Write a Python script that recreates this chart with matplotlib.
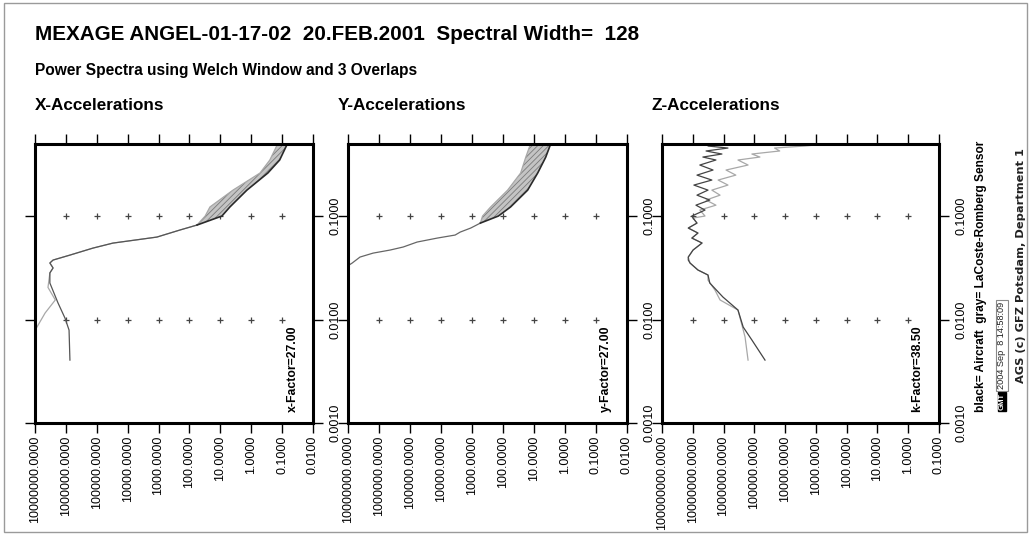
import matplotlib
matplotlib.use('Agg')
import matplotlib.pyplot as plt
from matplotlib.ticker import FixedLocator, FuncFormatter, NullLocator
from matplotlib.patches import Rectangle

plt.rcParams['font.family'] = ['Liberation Sans', 'DejaVu Sans']
plt.rcParams['hatch.linewidth'] = 0.6

W, H = 1029, 537

# ---------------- data ----------------
# X-Accelerations (frequency, power)
x_black_freq = [0.00406, 0.00792, 0.01035, 0.0145, 0.0226, 0.0283, 0.0316, 0.0353, 0.0377,
                0.0421, 0.0492, 0.055, 0.0629, 0.0736, 0.0822]
x_black_pow = [7.4e5, 7.9e5, 1.07e6, 1.8e6, 3.3e6, 3.3e6, 2.6e6, 3.3e6, 2.6e6,
               7.4e5, 1.33e5, 3.0e4, 1.13e3, 203, 57]
x_gray_freq = [0.0070, 0.0079, 0.0085, 0.0116, 0.0155, 0.0205, 0.0283, 0.0316, 0.0353, 0.0377,
               0.0421, 0.0492, 0.055, 0.0629, 0.0736, 0.0822]
x_gray_pow = [1.4e7, 1.0e7, 8.6e6, 4.7e6, 2.2e6, 3.8e6, 3.3e6, 2.6e6, 3.3e6, 2.6e6,
              7.4e5, 1.33e5, 3.0e4, 1.13e3, 203, 57]
x_band_freq = [0.0822, 0.1005, 0.123, 0.179, 0.262, 0.35, 0.5]
x_band_gray = [57, 31, 21.7, 3.9, 0.52, 0.25, 0.14]
x_band_black = [57, 8.9, 4.9, 1.38, 0.29, 0.12, 0.068]

# Y-Accelerations
y_freq = [0.0330, 0.0337, 0.0352, 0.0403, 0.044, 0.0471, 0.0504, 0.0563, 0.0615, 0.0658,
          0.0703, 0.0769, 0.0859]
y_pow = [1.2e7, 9.3e6, 7.4e6, 4.1e6, 1.55e6, 4.4e5, 1.66e5, 5.9e4, 1.32e4, 3.5e3,
         2.4e3, 1.1e3, 537]
y_band_freq = [0.0859, 0.1005, 0.123, 0.179, 0.262, 0.372, 0.5]
y_band_gray = [537, 457, 251, 71, 27, 18.5, 13]
y_band_black = [537, 141, 57, 16, 7.6, 4.2, 2.9]

# Z-Accelerations
z_black_freq = [0.00406, 0.00635, 0.00847, 0.01238, 0.01655, 0.0226, 0.027, 0.0302, 0.0353,
                0.0377, 0.0403, 0.0471, 0.0551, 0.0615, 0.0688, 0.0769, 0.0859, 0.0961,
                0.1005, 0.1148, 0.128, 0.1435, 0.160, 0.179, 0.2003, 0.224, 0.250, 0.280,
                0.313, 0.350, 0.374, 0.400, 0.428, 0.457, 0.478, 0.499]
z_black_pow = [4.5e4, 1.2e5, 2.3e5, 3.4e5, 1.05e6, 2.8e6, 3.2e6, 6.8e6, 1.23e7,
               1.4e7, 1.4e7, 9.8e6, 5.0e6, 1.07e7, 6.8e6, 1.4e7, 7.3e6, 9.8e6,
               1.07e7, 4.0e6, 7.9e6, 2.8e6, 7.3e6, 3.2e6, 9.2e6, 2.4e6, 7.3e6, 2.2e6,
               5.9e6, 1.77e6, 4.7e6, 1.13e6, 3.7e6, 7.2e5, 3.2e6, 6.2e5]
z_gray_freq = [0.00406, 0.00679, 0.01238, 0.0155, 0.0193, 0.0241, 0.027, 0.0302, 0.0353,
               0.0403, 0.0471, 0.0551, 0.0615, 0.0688, 0.0769, 0.0859, 0.0961,
               0.1005, 0.1148, 0.128, 0.1435, 0.160, 0.179, 0.2003, 0.224, 0.250, 0.280,
               0.313, 0.350, 0.374, 0.400, 0.428, 0.457, 0.478, 0.499]
z_gray_pow = [1.6e5, 2.0e5, 3.4e5, 1.3e6, 1.9e6, 3.2e6, 3.2e6, 6.8e6, 1.23e7,
              1.4e7, 9.8e6, 5.0e6, 1.07e7, 6.8e6, 1.4e7, 7.3e6, 9.8e6,
              4.0e6, 5.9e6, 1.77e6, 3.7e6, 1.3e6, 2.4e6, 7.2e5, 1.5e6, 4.0e5, 8.3e5,
              1.6e5, 3.4e5, 6.6e4, 1.2e5, 1.5e4, 2.2e4, 2.3e3, 5.0e2]

panel_titles = ['X-Accelerations', 'Y-Accelerations', 'Z-Accelerations']
factor_texts = ['x-Factor=27.00', 'y-Factor=27.00', 'k-Factor=38.50']
x_decades = [(7, -2), (7, -2), (8, -1)]       # power axis: left (max) -> right (min) exponent
y_tick_vals = [0.001, 0.01, 0.1]
y_range = (0.001, 0.5)

main_title = 'MEXAGE ANGEL-01-17-02  20.FEB.2001  Spectral Width=  128'
sub_title = 'Power Spectra using Welch Window and 3 Overlaps'
legend_text = 'black= Aircraft  gray= LaCoste-Romberg Sensor'
stamp_text = '2004 Sep  8 14:58:09'
credit_text = 'AGS (c) GFZ Potsdam, Department 1'

# ---------------- layout ----------------
fig = plt.figure(figsize=(W / 100, H / 100), dpi=100)
fig.patch.set_facecolor('white')

def fx(px):
    return px / W

def fy(py):
    return 1 - py / H

panel_lr = [(35, 313), (348, 627), (662, 939)]
title_x = [35, 338, 652]
factor_x = [293, 606, 917]
top_px, bot_px = 144, 423

BLACK = '#2a2a2a'
GRAY = '#a8a8a8'

axes = []
for i, (l, r) in enumerate(panel_lr):
    ax = fig.add_axes([fx(l), fy(bot_px), (r - l) / W, (bot_px - top_px) / H])
    ax.set_xscale('log')
    ax.set_yscale('log')
    hi, lo = x_decades[i]
    ax.set_xlim(10.0 ** hi, 10.0 ** lo)
    ax.set_ylim(*y_range)
    xt = [10.0 ** k for k in range(hi, lo - 1, -1)]
    ax.xaxis.set_major_locator(FixedLocator(xt))
    ax.xaxis.set_minor_locator(NullLocator())
    ax.yaxis.set_major_locator(FixedLocator(y_tick_vals))
    ax.yaxis.set_minor_locator(NullLocator())
    fmt = FuncFormatter(lambda v, p: '%.4f' % v)
    ax.xaxis.set_major_formatter(fmt)
    ax.yaxis.set_major_formatter(fmt)
    ax.tick_params(axis='x', which='major', direction='out', length=7, width=1.0,
                   top=True, bottom=True, labeltop=False, labelbottom=True,
                   labelrotation=90, labelsize=9, pad=2, colors='black')
    ax.tick_params(axis='y', which='major', direction='out', length=7, width=1.0,
                   left=True, right=True, labelleft=False, labelright=True,
                   labelrotation=90, labelsize=9, pad=5, colors='black')
    for lab in ax.get_yticklabels():
        lab.set_verticalalignment('center')
    for sp in ax.spines.values():
        sp.set_linewidth(2.2)
    # grid crosses at interior tick intersections
    gx = [v for v in xt[1:-1]]
    gy = [v for v in y_tick_vals[1:]]
    for yy in gy:
        ax.plot(gx, [yy] * len(gx), linestyle='none', marker='+', ms=4.5, mew=0.9,
                color='#444444', zorder=1)
    fig.text(fx(title_x[i]), fy(110), panel_titles[i], fontsize=12.3, fontweight='bold',
             ha='left', va='baseline')
    fig.text(fx(factor_x[i]), fy(412), factor_texts[i], fontsize=8.8, fontweight='bold',
             rotation=90, ha='center', va='bottom')
    axes.append(ax)

# X panel
ax = axes[0]
ax.fill_betweenx(x_band_freq, x_band_gray, x_band_black, facecolor='#c4c4c4',
                 edgecolor='#7a7a7a', hatch='//////', lw=0)
ax.plot(x_gray_pow, x_gray_freq, color=GRAY, lw=0.9)
ax.plot(x_black_pow, x_black_freq, color='#555555', lw=0.9)
ax.plot(x_band_gray, x_band_freq, color=GRAY, lw=0.9)
ax.plot(x_band_black, x_band_freq, color=BLACK, lw=1.2)

# Y panel
ax = axes[1]
ax.fill_betweenx(y_band_freq, y_band_gray, y_band_black, facecolor='#c4c4c4',
                 edgecolor='#7a7a7a', hatch='//////', lw=0)
ax.plot(y_pow, y_freq, color='#666666', lw=0.9)
ax.plot(y_band_gray, y_band_freq, color=GRAY, lw=0.9)
ax.plot(y_band_black, y_band_freq, color=BLACK, lw=1.2)

# Z panel
ax = axes[2]
ax.plot(z_gray_pow, z_gray_freq, color=GRAY, lw=0.9)
ax.plot(z_black_pow, z_black_freq, color='#444444', lw=0.9)

# titles
fig.text(fx(35), fy(40), main_title, fontsize=14.9, fontweight='bold', ha='left', va='baseline')
fig.text(fx(35), fy(75), sub_title, fontsize=11.2, fontweight='bold', ha='left', va='baseline')

# right-side annotations
fig.text(fx(981), fy(412), legend_text, fontsize=8.6, fontweight='bold', rotation=90,
         ha='center', va='bottom')
fig.text(fx(1002), fy(410), 'GMT', fontsize=5.6, fontweight='bold', rotation=90, color='white',
         ha='center', va='bottom',
         bbox=dict(boxstyle='square,pad=0.12', fc='black', ec='black'))
fig.text(fx(1002), fy(389), stamp_text, fontsize=6.6, rotation=90, color='#222222',
         ha='center', va='bottom',
         bbox=dict(boxstyle='square,pad=0.2', fc='white', ec='#888888', lw=0.8))
fig.text(fx(1021), fy(383), credit_text, fontsize=8.2, fontweight='bold', rotation=90,
         ha='center', va='bottom', color='#222222', family=['DejaVu Sans'])

# outer border
fig.add_artist(Rectangle((fx(4), fy(532)), (1027 - 4) / W, (532 - 3) / H,
                         transform=fig.transFigure, fill=False, ec='#9a9a9a', lw=1.0))

fig.savefig('out.png', dpi=100, facecolor='white')
